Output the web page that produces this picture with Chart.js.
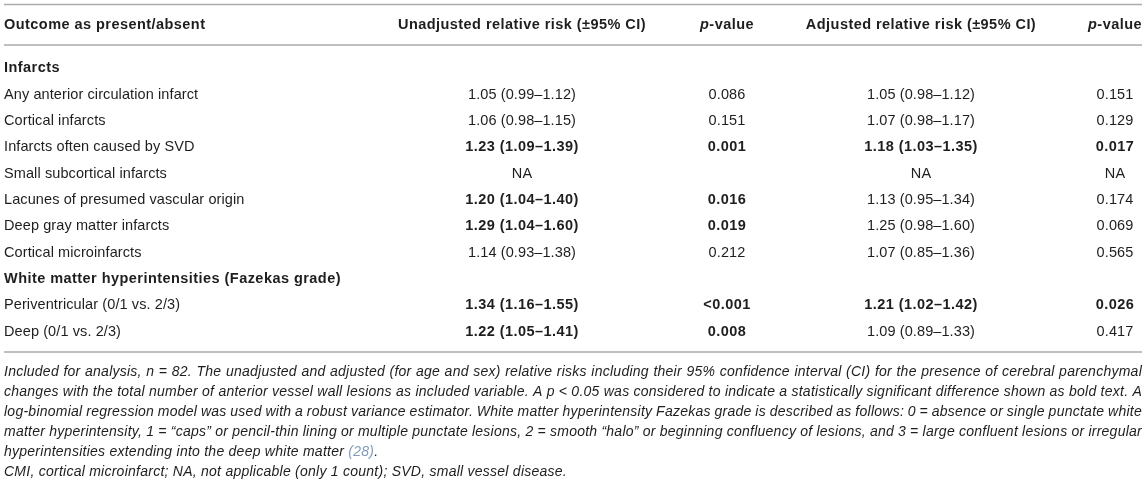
<!DOCTYPE html>
<html>
<head>
<meta charset="utf-8">
<script src="https://cdn.jsdelivr.net/npm/chart.js@4"></script>
<style>
  html, body { margin: 0; padding: 0; background: #fff; }
  #wrap { width: 1146px; height: 483px; position: relative; }
</style>
</head>
<body>
<div id="wrap"><canvas id="table"></canvas></div>
<script>
// table content
const headers = ['Outcome as present/absent', 'Unadjusted relative risk (±95% CI)', 'p-value', 'Adjusted relative risk (±95% CI)', 'p-value'];
const rows = [
  'Infarcts',
  'Any anterior circulation infarct',
  'Cortical infarcts',
  'Infarcts often caused by SVD',
  'Small subcortical infarcts',
  'Lacunes of presumed vascular origin',
  'Deep gray matter infarcts',
  'Cortical microinfarcts',
  'White matter hyperintensities (Fazekas grade)',
  'Periventricular (0/1 vs. 2/3)',
  'Deep (0/1 vs. 2/3)'
];
const sectionRows = ['Infarcts', 'White matter hyperintensities (Fazekas grade)'];
const unadjRR = [null, '1.05 (0.99–1.12)', '1.06 (0.98–1.15)', '1.23 (1.09–1.39)', 'NA', '1.20 (1.04–1.40)', '1.29 (1.04–1.60)', '1.14 (0.93–1.38)', null, '1.34 (1.16–1.55)', '1.22 (1.05–1.41)'];
const unadjP = [null, '0.086', '0.151', '0.001', null, '0.016', '0.019', '0.212', null, '<0.001', '0.008'];
const adjRR = [null, '1.05 (0.98–1.12)', '1.07 (0.98–1.17)', '1.18 (1.03–1.35)', 'NA', '1.13 (0.95–1.34)', '1.25 (0.98–1.60)', '1.07 (0.85–1.36)', null, '1.21 (1.02–1.42)', '1.09 (0.89–1.33)'];
const adjP = [null, '0.151', '0.129', '0.017', 'NA', '0.174', '0.069', '0.565', null, '0.026', '0.417'];
const captionLines = [
  'Included for analysis, n = 82. The unadjusted and adjusted (for age and sex) relative risks including their 95% confidence interval (CI) for the presence of cerebral parenchymal',
  'changes with the total number of anterior vessel wall lesions as included variable. A p < 0.05 was considered to indicate a statistically significant difference shown as bold text. A',
  'log-binomial regression model was used with a robust variance estimator. White matter hyperintensity Fazekas grade is described as follows: 0 = absence or single punctate white',
  'matter hyperintensity, 1 = “caps” or pencil-thin lining or multiple punctate lesions, 2 = smooth “halo” or beginning confluency of lesions, and 3 = large confluent lesions or irregular',
  'hyperintensities extending into the deep white matter (28).',
  'CMI, cortical microinfarct; NA, not applicable (only 1 count); SVD, small vessel disease.'
];

// layout (x in px since x scale runs 0..1146)
const colX = [4, 522, 727, 921, 1115];
const FONT = '"Liberation Sans", Arial, Helvetica, sans-serif';
const TEXT = '#1e1e1e';
const RULE = '#ababab';

const isSig = p => p != null && p !== 'NA' && parseFloat(p.replace('<', '')) < 0.05;

// set font + tracking together, helvetica-ish widths
function setFont(ctx, bold, italic, size) {
  ctx.font = (italic ? 'italic ' : '') + (bold ? 'bold ' : '') + (size || 14.5) + 'px ' + FONT;
  ctx.letterSpacing = italic && !bold ? '0.25px' : (bold ? '0.45px' : '0.1px');
}

// each value column becomes an invisible scatter dataset, the text sits on its points
function cells(values, col, pvals) {
  return values.map((v, i) => v == null ? null : {
    x: colX[col], y: i, text: v, bold: isSig(pvals[i])
  }).filter(d => d);
}

const tablePlugin = {
  id: 'tableText',
  afterDatasetsDraw(chart) {
    const ctx = chart.ctx;
    const area = chart.chartArea;
    const y = chart.scales.y;
    const left = colX[0], right = 1142;
    ctx.save();
    ctx.textBaseline = 'middle';
    ctx.fillStyle = TEXT;

    // rules
    ctx.strokeStyle = RULE;
    ctx.lineWidth = 1.6;
    [area.top - 50.5, area.top - 10, area.bottom + 7].forEach(ly => {
      ctx.beginPath();
      ctx.moveTo(left, ly);
      ctx.lineTo(right, ly);
      ctx.stroke();
    });

    // header
    const hy = area.top - 30.5;
    headers.forEach((h, k) => {
      if (h === 'p-value') {
        setFont(ctx, true, true);
        const w1 = ctx.measureText('p').width;
        setFont(ctx, true, false);
        const w2 = ctx.measureText('-value').width;
        const x0 = colX[k] - (w1 + w2) / 2;
        ctx.textAlign = 'left';
        setFont(ctx, true, true);
        ctx.fillText('p', x0, hy);
        setFont(ctx, true, false);
        ctx.fillText('-value', x0 + w1, hy);
      } else {
        setFont(ctx, true, false);
        ctx.textAlign = k === 0 ? 'left' : 'center';
        ctx.fillText(h, colX[k], hy);
      }
    });

    // row labels
    ctx.textAlign = 'left';
    rows.forEach((r, i) => {
      setFont(ctx, sectionRows.includes(r), false);
      ctx.fillText(r, colX[0], y.getPixelForValue(i));
    });

    // cell text on dataset points
    ctx.textAlign = 'center';
    chart.data.datasets.forEach((ds, di) => {
      const meta = chart.getDatasetMeta(di);
      meta.data.forEach((pt, j) => {
        const d = ds.data[j];
        setFont(ctx, d.bold, false);
        ctx.fillText(d.text, pt.x, pt.y);
      });
    });

    // caption, first four lines justified
    ctx.textAlign = 'left';
    setFont(ctx, false, true, 14);
    const sw = ctx.measureText(' ').width;
    captionLines.forEach((line, li) => {
      const ly = area.bottom + 27 + li * 20;
      const words = line.split(' ');
      const widths = words.map(w => ctx.measureText(w).width);
      const total = widths.reduce((a, b) => a + b, 0);
      const gap = li < 4 ? (right - left - total) / (words.length - 1) : sw;
      let x = left;
      words.forEach((w, wi) => {
        if (w.startsWith('(28)')) {
          ctx.fillStyle = '#7f9bb8';
          ctx.fillText('(28)', x, ly);
          const w28 = ctx.measureText('(28)').width;
          ctx.fillStyle = TEXT;
          ctx.fillText(w.slice(4), x + w28, ly);
        } else {
          ctx.fillText(w, x, ly);
        }
        x += widths[wi] + gap;
      });
    });
    ctx.restore();
  }
};

new Chart(document.getElementById('table'), {
  type: 'scatter',
  data: {
    datasets: [
      { label: headers[1], data: cells(unadjRR, 1, unadjP) },
      { label: headers[2], data: cells(unadjP, 2, unadjP) },
      { label: headers[3], data: cells(adjRR, 3, adjP) },
      { label: headers[4], data: cells(adjP, 4, adjP) }
    ]
  },
  options: {
    responsive: true,
    maintainAspectRatio: false,
    animation: false,
    events: [],
    layout: { padding: { top: 55, bottom: 138, left: 0, right: 0 } },
    elements: { point: { radius: 0 } },
    plugins: { legend: { display: false }, tooltip: { enabled: false } },
    scales: {
      x: { type: 'linear', min: 0, max: 1146, display: false },
      y: { type: 'linear', min: -0.5, max: rows.length - 0.5, reverse: true, display: false }
    }
  },
  plugins: [tablePlugin]
});
</script>
</body>
</html>
